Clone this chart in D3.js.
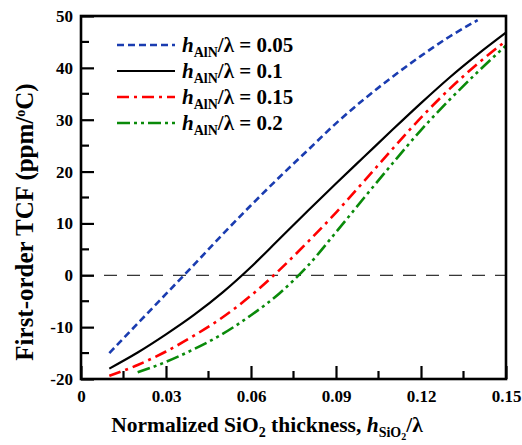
<!DOCTYPE html>
<html>
<head>
<meta charset="utf-8">
<script src="https://cdn.jsdelivr.net/npm/d3@7"></script>
<style>
  body { margin: 0; background: #fff; }
  svg { font-family: "Liberation Serif", "Times New Roman", serif; font-weight: bold; }
</style>
</head>
<body>
<svg id="svgid" width="522" height="445"></svg>
<script>
// thickness of SiO2 (normalized)
var xs05 = [0.01, 0.02, 0.03, 0.04, 0.05, 0.06, 0.07, 0.08, 0.09, 0.10, 0.11, 0.12, 0.13, 0.14];
var xs10 = [0.01, 0.02, 0.03, 0.04, 0.05, 0.06, 0.07, 0.08, 0.09, 0.10, 0.11, 0.12, 0.13, 0.14, 0.15];
var xs15 = [0.01, 0.02, 0.03, 0.04, 0.05, 0.06, 0.07, 0.08, 0.09, 0.10, 0.11, 0.12, 0.13, 0.14, 0.15];
var xs20 = [0.02, 0.03, 0.04, 0.05, 0.06, 0.07, 0.08, 0.09, 0.10, 0.11, 0.12, 0.13, 0.14, 0.15];

// first-order TCF (ppm/oC)
var tcf05 = [-15.0, -9.3, -3.6, 2.1, 7.9, 13.5, 18.9, 24.1, 29.3, 34.0, 38.3, 42.3, 46.0, 49.2];
var tcf10 = [-18.0, -14.9, -11.4, -7.6, -3.3, 1.6, 7.0, 12.4, 17.7, 22.9, 28.1, 33.2, 38.1, 42.6, 46.8];
var tcf15 = [-19.4, -17.3, -14.7, -11.6, -8.1, -3.9, 1.0, 6.4, 12.1, 18.2, 24.4, 30.4, 35.9, 40.8, 45.2];
var tcf20 = [-18.7, -16.7, -14.2, -11.3, -7.7, -3.5, 1.8, 8.3, 15.0, 21.6, 28.0, 33.8, 39.2, 44.3];

var seriesNames = ["0.05", "0.1", "0.15", "0.2"];
var xTicks = [0, 0.03, 0.06, 0.09, 0.12, 0.15];
var yTicks = [-20, -10, 0, 10, 20, 30, 40, 50];

var series = [
    { name: seriesNames[0], xs: xs05, ys: tcf05, color: "#1a3cb0", dash: "7,4" },
    { name: seriesNames[1], xs: xs10, ys: tcf10, color: "#000000", dash: null },
    { name: seriesNames[2], xs: xs15, ys: tcf15, color: "#ff0000", dash: "12,5,3,5" },
    { name: seriesNames[3], xs: xs20, ys: tcf20, color: "#0a8a0a", dash: "13,4,3,4,3,4" }
];

var svg = d3.select("svg"),
    plotL = 81, plotR = 506, plotT = 16, plotB = 379;

var x = d3.scaleLinear().domain([0, 0.15]).range([plotL, plotR]);
var y = d3.scaleLinear().domain([-20, 50]).range([plotB, plotT]);

// zero line
svg.append("line")
    .attr("x1", plotL).attr("x2", plotR)
    .attr("y1", y(0)).attr("y2", y(0))
    .attr("stroke", "#000").attr("stroke-width", 1)
    .attr("stroke-dasharray", "13,10");

// curves
var line = d3.line()
    .x(function (d) { return x(d[0]); })
    .y(function (d) { return y(d[1]); })
    .curve(d3.curveMonotoneX);

series.forEach(function (s) {
    var pts = s.xs.map(function (v, i) { return [v, s.ys[i]]; });
    var p = svg.append("path")
        .attr("d", line(pts))
        .attr("fill", "none")
        .attr("stroke", s.color)
        .attr("stroke-width", s.dash ? 2.6 : 2.2);
    if (s.dash) p.attr("stroke-dasharray", s.dash);
});

// axes: ticks inside, bold serif labels
var xAxis = d3.axisBottom(x).tickValues(xTicks).tickSizeInner(-13).tickSizeOuter(0)
    .tickPadding(11).tickFormat(function (d) { return d === 0 ? "0" : d3.format(".2f")(d); });
var gx = svg.append("g").attr("transform", "translate(0," + plotB + ")").call(xAxis);

var yAxis = d3.axisLeft(y).tickValues(yTicks).tickSizeInner(-13).tickSizeOuter(0)
    .tickPadding(8).tickFormat(function (d) { return String(d); });
var gy = svg.append("g").attr("transform", "translate(" + plotL + ",0)").call(yAxis);

[gx, gy].forEach(function (g) {
    g.select(".domain").remove();
    g.selectAll(".tick line").attr("stroke", "#000").attr("stroke-width", 2.2);
    g.selectAll(".tick text")
        .attr("fill", "#000")
        .style("font-family", "Liberation Serif, serif")
        .style("font-weight", "bold")
        .style("font-size", "17px");
});

// minor ticks
var xMinor = xTicks.slice(0, -1).map(function (d) { return d + 0.015; });
var yMinor = yTicks.slice(0, -1).map(function (d) { return d + 5; });
svg.selectAll(".xminor").data(xMinor).enter().append("line")
    .attr("x1", function (d) { return x(d); }).attr("x2", function (d) { return x(d); })
    .attr("y1", plotB).attr("y2", plotB - 8)
    .attr("stroke", "#000").attr("stroke-width", 2.2);
svg.selectAll(".yminor").data(yMinor).enter().append("line")
    .attr("y1", function (d) { return y(d); }).attr("y2", function (d) { return y(d); })
    .attr("x1", plotL).attr("x2", plotL + 8)
    .attr("stroke", "#000").attr("stroke-width", 2.2);

// frame
svg.append("rect")
    .attr("x", plotL).attr("y", plotT)
    .attr("width", plotR - plotL).attr("height", plotB - plotT)
    .attr("fill", "none").attr("stroke", "#000").attr("stroke-width", 2.6);

// legend
var legend = svg.append("g");
series.forEach(function (s, i) {
    var ly = 45 + i * 26;
    var l = legend.append("line")
        .attr("x1", 117).attr("x2", 175).attr("y1", ly).attr("y2", ly)
        .attr("stroke", s.color).attr("stroke-width", s.dash ? 2.6 : 2.2);
    if (s.dash) l.attr("stroke-dasharray", s.dash);
    var t = legend.append("text").attr("x", 182).attr("y", ly + 7).style("font-size", "21px");
    t.append("tspan").style("font-style", "italic").text("h");
    t.append("tspan").attr("dy", 5).style("font-size", "14px").text("AlN");
    t.append("tspan").attr("dy", -5).text("/λ = " + s.name);
});

// axis titles
var xt = svg.append("text").attr("x", 267).attr("y", 432)
    .attr("text-anchor", "middle").style("font-size", "21.5px");
xt.append("tspan").text("Normalized SiO");
xt.append("tspan").attr("dy", 5).style("font-size", "14px").text("2");
xt.append("tspan").attr("dy", -5).text(" thickness, ");
xt.append("tspan").style("font-style", "italic").text("h");
xt.append("tspan").attr("dy", 5).style("font-size", "14px").text("SiO");
xt.append("tspan").attr("dy", 3).style("font-size", "10px").text("2");
xt.append("tspan").attr("dy", -8).text("/λ");

var yt = svg.append("text")
    .attr("transform", "translate(33,222) rotate(-90)")
    .attr("text-anchor", "middle").style("font-size", "25px");
yt.append("tspan").text("First-order TCF (ppm/");
yt.append("tspan").attr("dy", -8).style("font-size", "14px").text("o");
yt.append("tspan").attr("dy", 8).text("C)");
</script>
</body>
</html>
